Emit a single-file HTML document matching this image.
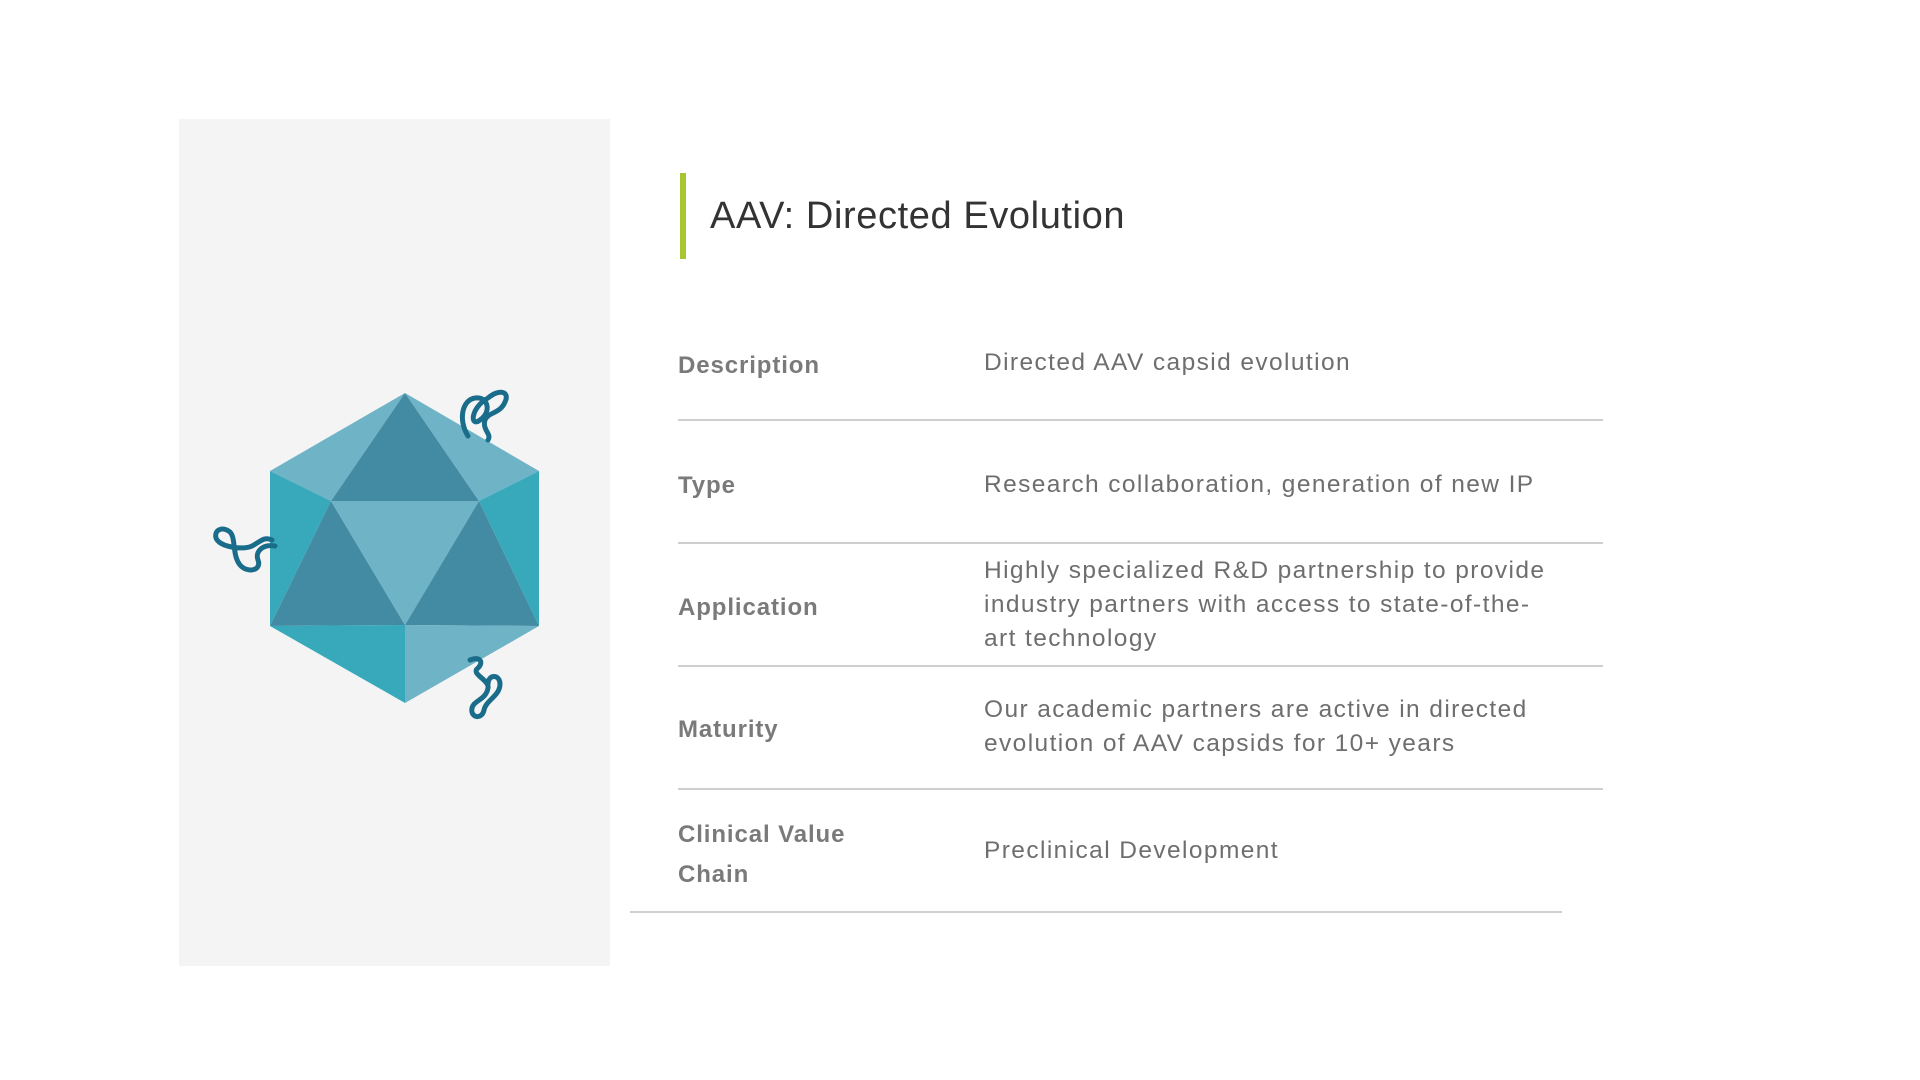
<!DOCTYPE html>
<html><head><meta charset="utf-8"><style>
body{margin:0;width:1920px;height:1080px;background:#fff;position:relative;overflow:hidden;font-family:"Liberation Sans",sans-serif}
.panel{position:absolute;left:179px;top:119px;width:431px;height:847px;background:#f4f4f4}
.bar{position:absolute;left:680px;top:173px;width:6px;height:86px;background:#a6c72f}
.title{position:absolute;left:710px;top:195px;font-size:38px;color:#333;letter-spacing:0.6px}
.lab{position:absolute;left:678px;font-size:24px;font-weight:bold;color:#7a7a7a;line-height:40px;letter-spacing:0.9px}
.val{position:absolute;left:984px;font-size:24.5px;color:#6e6e6e;line-height:34px;letter-spacing:1.4px}
.ln{position:absolute;height:2px;background:#cfcfcf}
</style></head><body>
<div class="panel"></div>
<svg style="position:absolute;left:0;top:0" width="700" height="1080">
<g>
<polygon points="405,393 270,471 331,501" fill="#6fb3c7"/>
<polygon points="405,393 331,501 479,501" fill="#438aa3"/>
<polygon points="405,393 479,501 539,471" fill="#6fb3c7"/>
<polygon points="270,471 331,501 270,626" fill="#38a9bb"/>
<polygon points="331,501 270,626 405,625" fill="#438aa3"/>
<polygon points="331,501 479,501 405,625" fill="#6fb3c7"/>
<polygon points="479,501 405,625 539,626" fill="#438aa3"/>
<polygon points="539,471 479,501 539,626" fill="#38a9bb"/>
<polygon points="270,626 405,625 405,703" fill="#38a9bb"/>
<polygon points="405,625 539,626 405,703" fill="#6fb3c7"/>
</g>
<g fill="none" stroke="#1a6d8a" stroke-width="5" stroke-linecap="round">
<path d="M468,436 C458,420 462,400 475,398 C488,396 492,412 480,420 C470,428 470,408 488,398 C500,388 510,392 505,402 C500,414 488,412 485,420 C482,430 492,434 488,440"/>
<path d="M275,546 C262,544 255,552 258,560 C262,570 248,574 240,565 C232,555 236,538 230,532 C222,526 214,530 216,538 C220,548 245,550 252,546 C260,542 264,536 272,540"/>
<path d="M470,660 C480,656 484,662 478,668 C470,674 490,680 488,688 C486,700 474,700 472,708 C470,718 482,720 484,710 C486,700 500,696 500,684 C500,674 488,674 488,684"/>
</g>
</svg>
<div class="bar"></div>
<div class="title">AAV: Directed Evolution</div>
<div class="lab" style="top:346px">Description</div>
<div class="val" style="top:346px">Directed AAV capsid evolution</div>
<div class="ln" style="left:678px;top:419px;width:925px"></div>
<div class="lab" style="top:466px">Type</div>
<div class="val" style="top:468px">Research collaboration, generation of new IP</div>
<div class="ln" style="left:678px;top:542px;width:925px"></div>
<div class="lab" style="top:588px">Application</div>
<div class="val" style="top:554px">Highly specialized R&amp;D partnership to provide<br>industry partners with access to state-of-the-<br>art technology</div>
<div class="ln" style="left:678px;top:665px;width:925px"></div>
<div class="lab" style="top:710px">Maturity</div>
<div class="val" style="top:693px">Our academic partners are active in directed<br>evolution of AAV capsids for 10+ years</div>
<div class="ln" style="left:678px;top:788px;width:925px"></div>
<div class="lab" style="top:815px">Clinical Value<br>Chain</div>
<div class="val" style="top:834px">Preclinical Development</div>
<div class="ln" style="left:630px;top:911px;width:932px"></div>
</body></html>
